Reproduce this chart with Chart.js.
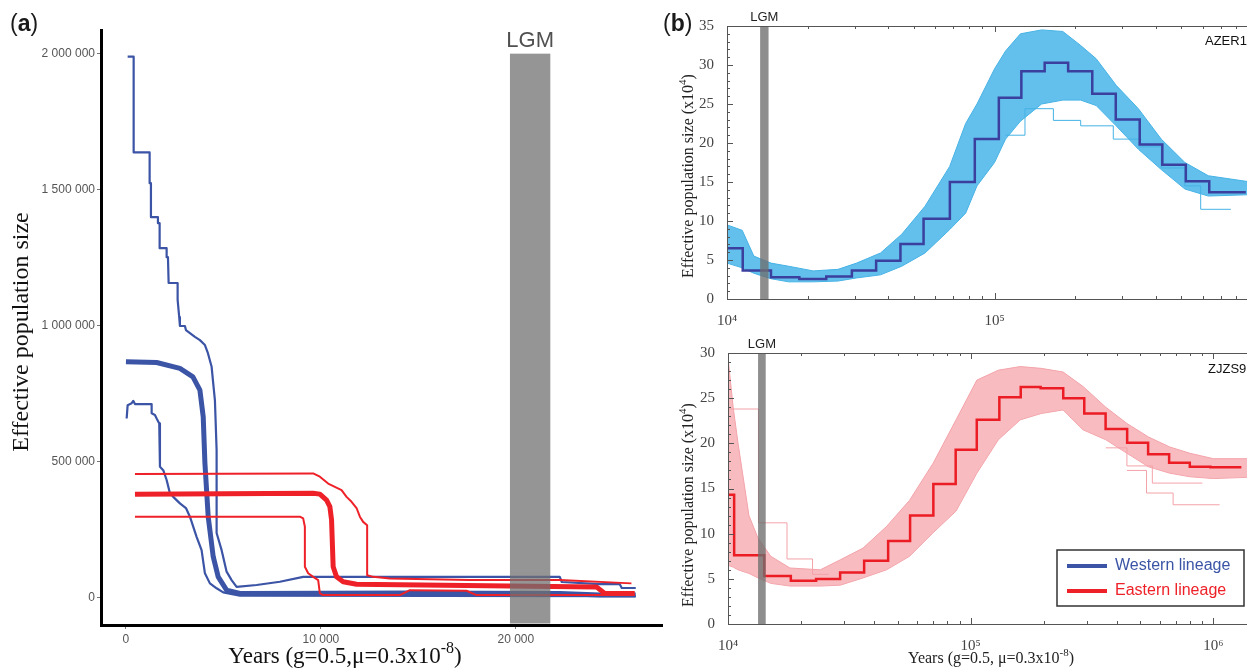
<!DOCTYPE html>
<html>
<head>
<meta charset="utf-8">
<script src="https://cdn.jsdelivr.net/npm/chart.js@4.4.1/dist/chart.umd.min.js"></script>
<style>
  html, body { margin: 0; padding: 0; background: #fff; overflow: hidden; width: 1247px; height: 669px; }
  .panel { position: absolute; }
</style>
</head>
<body>
<div class="panel" style="left:0;top:0"><canvas id="chartA" width="670" height="669"></canvas></div>
<div class="panel" style="left:660px;top:0"><canvas id="chartTop" width="610" height="330"></canvas></div>
<div class="panel" style="left:660px;top:330px"><canvas id="chartBottom" width="610" height="339"></canvas></div>
<script>
// ---- panel (a): PSMC curves on a linear time axis (values in thousands) ----
var yearTicksA = [0, 10000, 20000];
var neTicksA = [0, 500000, 1000000, 1500000, 2000000];
var lgmA = [19700, 21770];
var lgmATop = 2000000;

var west1Years = [87, 395, 395, 1215, 1215, 1282, 1282, 1641, 1641, 1728, 1728, 2087, 2087, 2155, 2190, 2651, 2651, 2733, 2769, 3026, 3077, 3282, 3538, 3795, 4051, 4205, 4395, 4461, 4564, 4651, 4651, 4908, 5164, 5420, 5677, 6703, 7897, 9092, 22256, 22358, 24307, 25333, 25435, 26153];
var west1Ne = [1989, 1989, 1637, 1637, 1524, 1524, 1399, 1399, 1377, 1377, 1285, 1285, 1252, 1252, 1157, 1157, 1095, 1032, 999, 999, 984, 973, 959, 947, 929, 899, 849, 800, 726, 543, 238, 175, 96, 65, 40, 47, 59, 77, 77, 58, 50, 50, 36, 36];

var west2Years = [0, 1574, 2769, 3436, 3795, 3964, 4051, 4220, 4477, 4733, 5164, 5846, 14564, 22256, 24307, 26153];
var west2Ne = [868, 865, 843, 812, 763, 665, 495, 298, 151, 77, 28, 16, 18, 16, 10, 10];

var west3Years = [36, 87, 292, 374, 462, 1318, 1318, 1487, 1574, 1708, 1744, 1913, 2087, 2256, 2426, 2769, 3077, 3282, 3624, 3880, 4051, 4308, 4651, 4990, 5846, 26153];
var west3Ne = [659, 708, 715, 724, 712, 712, 678, 672, 659, 641, 482, 469, 433, 384, 371, 347, 330, 298, 224, 175, 90, 53, 35, 20, 8, 6];

var east1Years = [462, 9605, 9948, 10374, 11061, 11318, 11574, 11830, 12000, 12169, 12374, 12374, 12682, 13538, 17641, 22256, 25932];
var east1Ne = [455, 457, 445, 420, 396, 371, 353, 330, 298, 279, 267, 83, 77, 71, 65, 65, 53];

var east2Years = [462, 9605, 9948, 10292, 10461, 10548, 10630, 10805, 11143, 11830, 24138, 24563, 26102];
var east2Ne = [381, 384, 381, 359, 335, 286, 114, 77, 59, 50, 40, 16, 16];

var east3Years = [462, 8923, 9092, 9179, 9179, 9349, 9605, 9861, 9948, 10118, 14051, 14564, 17471, 17984, 26102];
var east3Ne = [298, 298, 292, 261, 114, 90, 77, 65, 16, 10, 10, 28, 26, 10, 10];

// ---- panel (b): PSMC with bootstraps on a log time axis (x10^4) ----
var lgmB = [13300, 14300];

var azerTimes = [10000, 11450, 14600, 18640, 23500, 29300, 36100, 44500, 54300, 68100, 84400, 103800, 126000, 154000, 188500, 232000, 284000, 349000, 424000, 519000, 635000, 870000];
var azerMean = [6.5, 3.65, 2.8, 2.55, 2.9, 3.65, 4.9, 7.05, 10.3, 15.0, 20.5, 25.8, 29.2, 30.3, 29.2, 26.3, 23.0, 19.8, 17.2, 15.1, 13.7, 13.7];
var azerBootYears = [10000, 11400, 12600, 14600, 17000, 21000, 26000, 30500, 37500, 45000, 55000, 68000, 78000, 86000, 100000, 110000, 125000, 150000, 180000, 210000, 240000, 285000, 345000, 420000, 515000, 630000, 950000];
var azerBootHigh = [9.5, 8.8, 5.5, 4.6, 4.2, 3.6, 3.8, 4.6, 5.9, 8.3, 11.9, 17.0, 22.5, 25.0, 29.5, 31.8, 34.0, 34.5, 34.3, 32.5, 30.8, 27.4, 24.4, 20.5, 17.5, 15.8, 14.9];
var azerBootLow = [4.6, 4.0, 3.3, 2.6, 2.2, 2.2, 2.3, 2.7, 3.1, 4.2, 5.9, 8.9, 11.0, 14.5, 17.5, 20.5, 22.8, 25.0, 25.5, 25.5, 24.8, 22.2, 19.2, 16.6, 14.1, 13.2, 13.4];
var azerOutA_Years = [345000, 420000, 515000, 590000, 765000];
var azerOutA = [19.5, 16.8, 14.5, 11.5, 11.5];
var azerOutB_Years = [110000, 130000, 166000, 210000, 278000, 355000];
var azerOutB = [21.0, 24.4, 22.9, 22.2, 20.5, 20.5];

var zjzsTimes = [10000, 10600, 14100, 18150, 23070, 28970, 36380, 45680, 56260, 70150, 86700, 105900, 131200, 160700, 194100, 240500, 293600, 359500, 441000, 538000, 656700, 799000, 972000, 1303000];
var zjzsMean = [14.3, 7.6, 5.3, 4.8, 4.97, 5.7, 7.0, 9.2, 12.0, 15.5, 19.3, 22.6, 25.1, 26.25, 26.1, 25.0, 23.3, 21.6, 20.07, 18.8, 17.86, 17.4, 17.35, 17.35];
var zjzsBootYears = [10000, 10500, 11000, 12200, 13300, 15000, 18000, 24000, 29000, 36000, 45000, 56000, 70000, 87000, 106000, 130000, 160000, 195000, 240000, 290000, 360000, 440000, 540000, 660000, 800000, 1000000, 1600000];
var zjzsBootHigh = [29.5, 24.0, 20.0, 12.0, 9.5, 7.5, 6.2, 6.0, 7.1, 8.4, 10.8, 13.7, 17.8, 22.6, 27.0, 28.1, 28.5, 28.3, 27.9, 26.3, 24.0, 22.2, 20.7, 19.6, 18.9, 18.3, 18.3];
var zjzsBootLow = [6.5, 6.3, 6.0, 5.6, 5.1, 4.5, 4.2, 4.2, 4.3, 5.1, 6.0, 7.5, 10.1, 12.5, 16.7, 20.4, 22.6, 23.3, 23.7, 21.5, 20.4, 18.9, 17.4, 16.7, 16.3, 16.1, 16.3];
var zjzsOutA_Years = [10000, 13350, 17500, 22300, 26000];
var zjzsOutA = [23.8, 11.2, 7.2, 5.5, 5.5];
var zjzsOutB_Years = [440000, 530000, 682000, 1060000];
var zjzsOutB = [17.0, 14.5, 13.2, 13.2];
var zjzsOutC_Years = [360000, 440000, 560000, 900000];
var zjzsOutC = [19.5, 17.5, 15.6, 15.6];

var blue = '#3b54a5';
var red = '#ee2128';
var serif = "'Liberation Serif', 'Times New Roman', serif";
var sans = "'Liberation Sans', Arial, sans-serif";
var supDigits = { 4: '\u2074', 5: '\u2075', 6: '\u2076' };

function pts(xs, ys, k) {
  return xs.map(function(x, i) { return { x: x, y: ys[i] * (k || 1) }; });
}

function withSpaces(v) {
  return String(v).replace(/\B(?=(\d{3})+(?!\d))/g, ' ');
}

// draws a run of text pieces (some raised) centred on x
function drawParts(ctx, parts, x, y) {
  var total = 0;
  parts.forEach(function(p) { ctx.font = p.font; total += ctx.measureText(p.t).width; });
  var cx = x - total / 2;
  ctx.textAlign = 'left';
  ctx.textBaseline = 'alphabetic';
  parts.forEach(function(p) {
    ctx.font = p.font;
    ctx.fillText(p.t, cx, y + (p.dy || 0));
    cx += ctx.measureText(p.t).width;
  });
}

function panelLabel(ctx, letter, x, y) {
  ctx.fillStyle = '#1a1a1a';
  ctx.textAlign = 'left';
  ctx.textBaseline = 'alphabetic';
  ctx.font = '23px ' + sans;
  ctx.fillText('(', x, y);
  var w = ctx.measureText('(').width;
  ctx.font = 'bold 23px ' + sans;
  ctx.fillText(letter, x + w, y);
  w += ctx.measureText(letter).width;
  ctx.font = '23px ' + sans;
  ctx.fillText(')', x + w, y);
}

function lineSet(xs, ys, color, width, k) {
  return { data: pts(xs, ys, k), borderColor: color, borderWidth: width, fill: false };
}

// ---------------- chart (a) ----------------
var panelAPlugin = {
  id: 'panelA',
  afterDatasetsDraw: function(chart) {
    var ctx = chart.ctx, x = chart.scales.x, y = chart.scales.y, area = chart.chartArea;
    var x0 = x.getPixelForValue(lgmA[0]);
    var x1 = x.getPixelForValue(lgmA[1]);
    var yTop = y.getPixelForValue(lgmATop);
    ctx.save();
    ctx.fillStyle = 'rgba(112,112,112,0.74)';
    ctx.fillRect(x0, yTop, x1 - x0, area.bottom - yTop - 1.5);
    ctx.fillStyle = '#505050';
    ctx.font = '22px ' + sans;
    ctx.textAlign = 'center';
    ctx.textBaseline = 'alphabetic';
    ctx.fillText('LGM', (x0 + x1) / 2, 47);
    ctx.restore();
  },
  afterDraw: function(chart) {
    var ctx = chart.ctx;
    ctx.save();
    panelLabel(ctx, 'a', 10, 31);
    ctx.fillStyle = '#111';
    drawParts(ctx, [
      { t: 'Years (g=0.5,\u03bc=0.3x10', font: '23px ' + serif },
      { t: '-8', font: '16px ' + serif, dy: -10 },
      { t: ')', font: '23px ' + serif }
    ], 345, 663);
    ctx.translate(28, 332);
    ctx.rotate(-Math.PI / 2);
    ctx.font = '24px ' + serif;
    ctx.textAlign = 'center';
    ctx.fillText('Effective population size', 0, 0);
    ctx.restore();
  }
};

new Chart(document.getElementById('chartA').getContext('2d'), {
  type: 'line',
  data: {
    datasets: [
      lineSet(east2Years, east2Ne, red, 5, 1000),
      lineSet(east1Years, east1Ne, red, 2, 1000),
      lineSet(east3Years, east3Ne, red, 2, 1000),
      lineSet(west2Years, west2Ne, blue, 5, 1000),
      lineSet(west1Years, west1Ne, blue, 2.2, 1000),
      lineSet(west3Years, west3Ne, blue, 2.2, 1000)
    ]
  },
  options: {
    responsive: false,
    animation: false,
    devicePixelRatio: 1,
    layout: { padding: { top: 30, right: 8, left: 0, bottom: 0 } },
    plugins: { legend: { display: false }, tooltip: { enabled: false } },
    elements: { point: { radius: 0 }, line: { tension: 0, borderJoinStyle: 'round', borderCapStyle: 'butt' } },
    scales: {
      x: {
        type: 'linear',
        min: -1280,
        max: 27500,
        afterFit: function(s) { s.height = 44; },
        afterBuildTicks: function(s) { s.ticks = yearTicksA.map(function(v) { return { value: v }; }); },
        grid: { display: true, drawOnChartArea: false, tickLength: 4, color: '#777' },
        border: { display: true, color: '#000', width: 3 },
        ticks: {
          padding: 3, color: '#555', maxRotation: 0, autoSkip: false,
          font: { family: sans, size: 12 },
          callback: function(v) { return withSpaces(v); }
        }
      },
      y: {
        type: 'linear',
        min: -100000,
        max: 2087000,
        afterFit: function(s) { s.width = 101; },
        afterBuildTicks: function(s) { s.ticks = neTicksA.map(function(v) { return { value: v }; }); },
        grid: { display: true, drawOnChartArea: false, tickLength: 4, color: '#777' },
        border: { display: true, color: '#000', width: 3 },
        ticks: {
          padding: 2, color: '#555', autoSkip: false,
          font: { family: sans, size: 12 },
          callback: function(v) { return withSpaces(v); }
        }
      }
    }
  },
  plugins: [panelAPlugin]
});

// ---------------- charts (b) ----------------
function frameAndTicks(chart) {
  var ctx = chart.ctx, x = chart.scales.x, y = chart.scales.y, a = chart.chartArea;
  ctx.save();
  ctx.strokeStyle = '#555';
  ctx.lineWidth = 1;
  ctx.strokeRect(Math.round(a.left) + 0.5, Math.round(a.top) + 0.5, Math.round(a.right - a.left), Math.round(a.bottom - a.top));
  ctx.beginPath();
  for (var d = 4; d <= 6; d++) {
    for (var k = 1; k <= 9; k++) {
      var v = k * Math.pow(10, d);
      if (v < x.min || v > x.max) continue;
      var px = Math.round(x.getPixelForValue(v)) + 0.5;
      var len = k === 1 ? 6 : 3;
      ctx.moveTo(px, a.top); ctx.lineTo(px, a.top + len);
      ctx.moveTo(px, a.bottom); ctx.lineTo(px, a.bottom - len);
    }
  }
  for (var t = y.min; t <= y.max; t += 1) {
    var py = Math.round(y.getPixelForValue(t)) + 0.5;
    var l = t % 5 === 0 ? 6 : 3;
    ctx.moveTo(a.left, py); ctx.lineTo(a.left + l, py);
    ctx.moveTo(a.right, py); ctx.lineTo(a.right - l, py);
  }
  ctx.stroke();
  ctx.restore();
}

function lgmBand(chart) {
  var ctx = chart.ctx, x = chart.scales.x, a = chart.chartArea;
  var x0 = x.getPixelForValue(lgmB[0]);
  var x1 = x.getPixelForValue(lgmB[1]);
  ctx.save();
  ctx.fillStyle = 'rgba(110,110,110,0.78)';
  ctx.fillRect(x0, a.top, x1 - x0, a.bottom - a.top);
  ctx.fillStyle = '#222';
  ctx.font = '13px ' + sans;
  ctx.textAlign = 'center';
  ctx.textBaseline = 'alphabetic';
  ctx.fillText('LGM', (x0 + x1) / 2, a.top - 5);
  ctx.restore();
}

function yTitleB(ctx, cy) {
  ctx.save();
  ctx.fillStyle = '#222';
  ctx.translate(33, cy);
  ctx.rotate(-Math.PI / 2);
  drawParts(ctx, [
    { t: 'Effective population size (x10', font: '16px ' + serif },
    { t: '4', font: '11px ' + serif, dy: -7 },
    { t: ')', font: '16px ' + serif }
  ], 0, 0);
  ctx.restore();
}

function bOptions(padTop, xMax, xTicks, yMax, xHeight, yWidth) {
  return {
    responsive: false,
    animation: false,
    devicePixelRatio: 1,
    layout: { padding: { top: padTop, right: 8, left: 0, bottom: 0 } },
    plugins: { legend: { display: false }, tooltip: { enabled: false } },
    elements: { point: { radius: 0 }, line: { tension: 0 } },
    scales: {
      x: {
        type: 'logarithmic',
        min: 10000,
        max: xMax,
        afterFit: function(s) { s.height = xHeight; },
        afterBuildTicks: function(s) { s.ticks = xTicks.map(function(v) { return { value: v }; }); },
        grid: { display: false },
        border: { display: false },
        ticks: {
          padding: 5, color: '#444', maxRotation: 0, autoSkip: false,
          font: { family: serif, size: 15 },
          callback: function(v) { return '10' + supDigits[Math.round(Math.log10(v))]; }
        }
      },
      y: {
        type: 'linear',
        min: 0,
        max: yMax,
        afterFit: function(s) { s.width = yWidth; },
        afterBuildTicks: function(s) {
          var list = [];
          for (var v = 0; v <= yMax; v += 5) list.push({ value: v });
          s.ticks = list;
        },
        grid: { display: false },
        border: { display: false },
        ticks: { padding: 5, color: '#444', font: { family: serif, size: 15 } }
      }
    }
  };
}

var topPlugin = {
  id: 'topB',
  afterDatasetsDraw: function(chart) { lgmBand(chart); },
  afterDraw: function(chart) {
    var ctx = chart.ctx;
    frameAndTicks(chart);
    ctx.save();
    panelLabel(ctx, 'b', 3, 31);
    ctx.fillStyle = '#111';
    ctx.font = '13px ' + sans;
    ctx.textAlign = 'left';
    ctx.fillText('AZER1', 545, 45);
    ctx.restore();
    yTitleB(ctx, 176);
  }
};

var bottomPlugin = {
  id: 'bottomB',
  afterDatasetsDraw: function(chart) { lgmBand(chart); },
  afterDraw: function(chart) {
    var ctx = chart.ctx;
    frameAndTicks(chart);
    ctx.save();
    ctx.fillStyle = '#111';
    ctx.font = '13px ' + sans;
    ctx.textAlign = 'left';
    ctx.fillText('ZJZS9', 548, 43);
    // legend
    ctx.fillStyle = '#fff';
    ctx.fillRect(397, 220, 187, 56);
    ctx.strokeStyle = '#333';
    ctx.lineWidth = 1.5;
    ctx.strokeRect(397, 220, 187, 56);
    ctx.lineWidth = 4;
    ctx.strokeStyle = blue;
    ctx.beginPath(); ctx.moveTo(407, 236); ctx.lineTo(447, 236); ctx.stroke();
    ctx.strokeStyle = red;
    ctx.beginPath(); ctx.moveTo(407, 261); ctx.lineTo(447, 261); ctx.stroke();
    ctx.font = '16px ' + sans;
    ctx.textBaseline = 'middle';
    ctx.fillStyle = blue;
    ctx.fillText('Western lineage', 455, 236);
    ctx.fillStyle = red;
    ctx.fillText('Eastern lineage', 455, 261);
    ctx.textBaseline = 'alphabetic';
    ctx.fillStyle = '#222';
    drawParts(ctx, [
      { t: 'Years (g=0.5, \u03bc=0.3x10', font: '16px ' + serif },
      { t: '-8', font: '11px ' + serif, dy: -7 },
      { t: ')', font: '16px ' + serif }
    ], 331, 333);
    ctx.restore();
    yTitleB(ctx, 175);
  }
};

var cloudBlue = 'rgba(72,180,231,0.85)';
var cloudBlueLine = '#45b2e5';
var cloudPink = 'rgba(245,170,176,0.8)';
var cloudPinkLine = '#f3a3a9';

new Chart(document.getElementById('chartTop').getContext('2d'), {
  type: 'line',
  data: {
    datasets: [
      { data: pts(azerBootYears, azerBootLow), borderColor: cloudBlueLine, borderWidth: 1, fill: false, order: 4 },
      { data: pts(azerBootYears, azerBootHigh), borderColor: cloudBlueLine, borderWidth: 1, backgroundColor: cloudBlue, fill: '-1', order: 3 },
      { data: pts(azerOutA_Years, azerOutA), borderColor: cloudBlueLine, borderWidth: 1, stepped: true, fill: false, order: 2 },
      { data: pts(azerOutB_Years, azerOutB), borderColor: cloudBlueLine, borderWidth: 1, stepped: true, fill: false, order: 1 },
      { data: pts(azerTimes, azerMean), borderColor: '#3b3f9e', borderWidth: 2.5, stepped: true, fill: false, order: 0 }
    ]
  },
  options: bOptions(26, 1000000, [10000, 100000], 35, 31, 67),
  plugins: [topPlugin]
});

new Chart(document.getElementById('chartBottom').getContext('2d'), {
  type: 'line',
  data: {
    datasets: [
      { data: pts(zjzsBootYears, zjzsBootLow), borderColor: cloudPinkLine, borderWidth: 1, fill: false, order: 5 },
      { data: pts(zjzsBootYears, zjzsBootHigh), borderColor: cloudPinkLine, borderWidth: 1, backgroundColor: cloudPink, fill: '-1', order: 4 },
      { data: pts(zjzsOutA_Years, zjzsOutA), borderColor: cloudPinkLine, borderWidth: 1, stepped: true, fill: false, order: 3 },
      { data: pts(zjzsOutB_Years, zjzsOutB), borderColor: cloudPinkLine, borderWidth: 1, stepped: true, fill: false, order: 2 },
      { data: pts(zjzsOutC_Years, zjzsOutC), borderColor: cloudPinkLine, borderWidth: 1, stepped: true, fill: false, order: 1 },
      { data: pts(zjzsTimes, zjzsMean), borderColor: '#ec1c24', borderWidth: 2.5, stepped: true, fill: false, order: 0 }
    ]
  },
  options: bOptions(23, 1584893, [10000, 100000, 1000000], 30, 45, 68),
  plugins: [bottomPlugin]
});
</script>
</body>
</html>
